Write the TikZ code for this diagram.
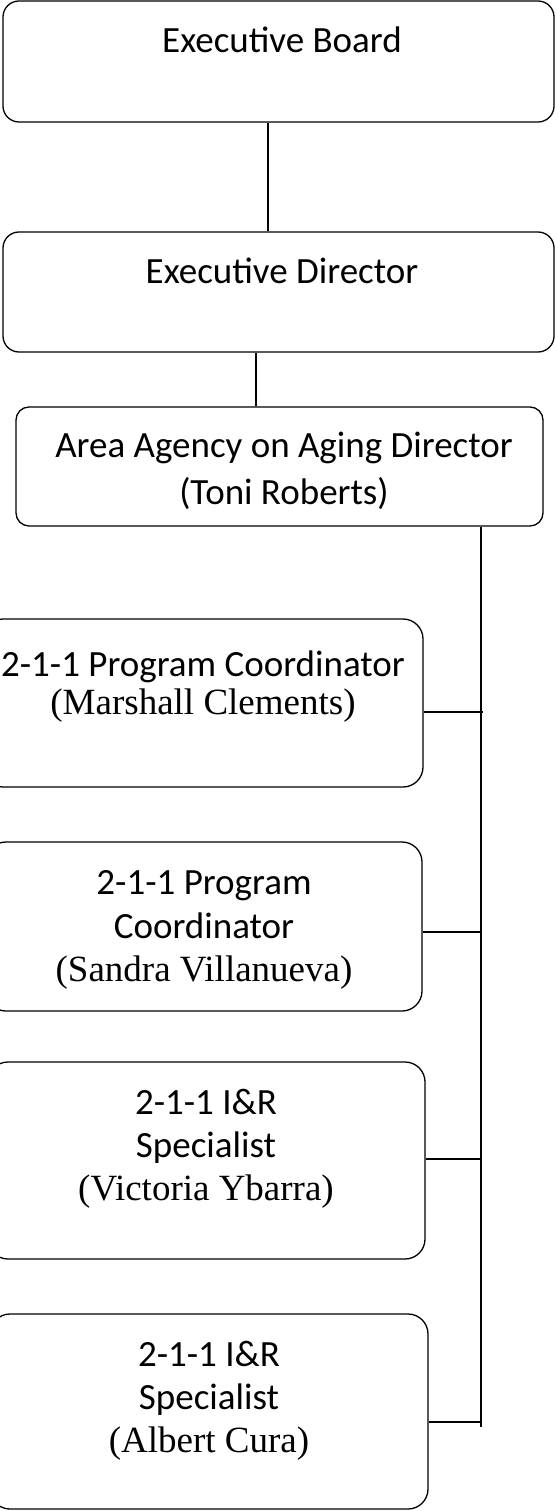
\documentclass[tikz,border=0pt]{standalone}
\usepackage{fontspec}
\setmainfont{Carlito}
\newfontfamily\namefont{Liberation Serif}
\begin{document}
\begin{tikzpicture}[x=1pt,y=-1pt,
  orgbox/.style={draw=black, line width=1.3pt, rounded corners=16pt, inner sep=0pt},
  link/.style={draw=black, line width=1.2pt},
  title/.style={anchor=base, inner sep=0pt, font=\fontsize{37}{44}\selectfont},
  person/.style={anchor=base, inner sep=0pt, font=\namefont\fontsize{37}{44}\selectfont}]
  \useasboundingbox (0,0) rectangle (557,1511);
  \clip (0,0) rectangle (557,1511);

  % boxes
  \node[orgbox, minimum width=551pt, minimum height=121pt] (eb)  at (278.5,61.5)  {};
  \node[orgbox, minimum width=551pt, minimum height=120pt] (ed)  at (278.5,292)   {};
  \node[orgbox, rounded corners=13pt, minimum width=527pt, minimum height=119pt] (aaa) at (279.5,466.5) {};
  \node[orgbox, rounded corners=20pt, minimum width=440pt, minimum height=168pt] (mc)  at (203,703)     {};
  \node[orgbox, rounded corners=20pt, minimum width=436pt, minimum height=169pt] (sv)  at (204,926.5)   {};
  \node[orgbox, rounded corners=20pt, minimum width=437pt, minimum height=197pt] (vy)  at (206.5,1160.5){};
  \node[orgbox, rounded corners=20pt, minimum width=438pt, minimum height=195pt] (ac)  at (209,1411.5)  {};

  % labels
  \node[title] (eb-t) at (282,53) {Executive Board};
  \node[title] (ed-t) at (282,284) {Executive Director};
  \node[title] (aaa-t1) at (284,457) {Area Agency on Aging Director};
  \node[title] (aaa-t2) at (284,504) {(Toni Roberts)};
  \node[title] (mc-t1) at (203,676) {2-1-1 Program Coordinator};
  \node[person] (mc-t2) at (203,714) {(Marshall Clements)};
  \node[title] (sv-t1) at (204,894) {2-1-1 Program};
  \node[title] (sv-t2) at (204,938) {Coordinator};
  \node[person] (sv-t3) at (204,981) {(Sandra Villanueva)};
  \node[title] (vy-t1) at (206,1114) {2-1-1 I\&R};
  \node[title] (vy-t2) at (206,1157) {Specialist};
  \node[person] (vy-t3) at (206,1200) {(Victoria Ybarra)};
  \node[title] (ac-t1) at (209,1366) {2-1-1 I\&R};
  \node[title] (ac-t2) at (209,1409) {Specialist};
  \node[person] (ac-t3) at (209,1452) {(Albert Cura)};

  % connectors
  \draw[link] (eb.south -| 268,0) -- (ed.north -| 268,0);
  \draw[link] (ed.south -| 256,0) -- (aaa.north -| 256,0);
  \coordinate (trunk-end) at (481,1427);
  \draw[link] (aaa.south -| trunk-end) -- (trunk-end);
  \coordinate (j1) at (483,712);
  \coordinate (j2) at (482,932);
  \coordinate (j3) at (481,1159);
  \coordinate (j4) at (481,1422);
  \draw[link] (mc.east |- j1) -- (j1);
  \draw[link] (sv.east |- j2) -- (j2);
  \draw[link] (vy.east |- j3) -- (j3);
  \draw[link] (ac.east |- j4) -- (j4);
\end{tikzpicture}
\end{document}
